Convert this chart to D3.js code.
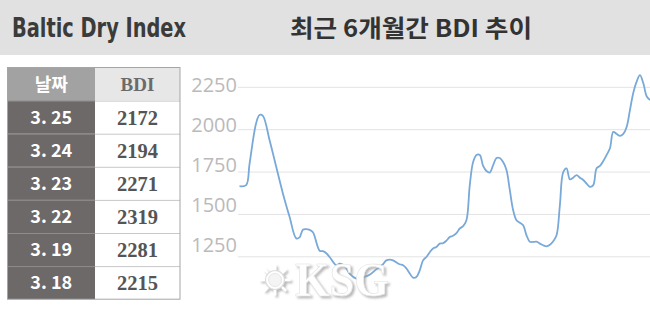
<!DOCTYPE html>
<html><head><meta charset="utf-8">
<script src="https://cdn.jsdelivr.net/npm/d3@7"></script>
<style>html,body{margin:0;padding:0;background:#fff;}svg{display:block;}</style>
</head><body>
<svg id="c" width="650" height="310"></svg>
<script>
// trading-day index (0 = late Sept) and BDI value
const days = [0,2,3,5,6,7,9,11,13,15,17,18,19,20,21,22,24,25,26,27,29,30,31,32,33,35,36,37,39,41,43,44,45,46,48,49,50,51,52,53,54,55,56,57,58,59,60,61,62,63,64,65,66,67,68,69,70,71,72,73,74,75,76,77,78,79,80,81,82,83,84,85,86,87,88,89,90,91,92,93,94,95,96,97,98,99,100,101,102,103,104,105,106,107,108,109,110,111,112,113,114,115,116,117,118,119,120,121,122,123];
const values = [1664,1670,1794,2037,2084,2079,1936,1778,1621,1483,1356,1362,1407,1410,1406,1392,1283,1280,1268,1246,1197,1206,1200,1179,1148,1118,1118,1126,1141,1173,1203,1226,1230,1226,1203,1197,1179,1149,1124,1128,1167,1226,1246,1274,1296,1305,1325,1327,1342,1364,1371,1386,1414,1428,1463,1670,1806,1848,1848,1783,1753,1744,1788,1830,1830,1806,1759,1640,1522,1463,1448,1433,1374,1336,1335,1336,1325,1315,1309,1318,1339,1374,1552,1747,1769,1704,1714,1729,1714,1700,1679,1660,1670,1769,1783,1812,1848,1887,1984,1972,1960,1972,2013,2114,2215,2281,2319,2271,2194,2172];
const yTicks = [1250,1500,1750,2000,2250];
const tableDates = ["3. 25","3. 24","3. 23","3. 22","3. 19","3. 18"];
const tableBDI = [2172,2194,2271,2319,2281,2215];
const titleLeft = "Baltic Dry Index";
const titleMain = "최근 6개월간 BDI 추이";
const tableHead = ["날짜","BDI"];

const svg = d3.select("#c");
const defs = svg.append("defs");
const f = defs.append("filter").attr("id","wmShadow").attr("x","-10%").attr("y","-10%").attr("width","130%").attr("height","130%");
f.append("feDropShadow").attr("dx",2).attr("dy",2).attr("stdDeviation",1.2).attr("flood-color","#9a9a9a").attr("flood-opacity",0.7);

svg.append("rect").attr("width",650).attr("height",310).attr("fill","#fff");

// top band
svg.append("rect").attr("x",0).attr("y",0).attr("width",650).attr("height",55).attr("fill","#e1e1e1");
svg.append("text").attr("x",12).attr("y",37).text(titleLeft)
  .attr("font-family","'Liberation Sans Narrow','DejaVu Sans Condensed','Noto Sans',sans-serif")
  .attr("font-size",26).attr("font-weight","bold").attr("fill","#3b3b3b")
  .attr("textLength",174).attr("lengthAdjust","spacingAndGlyphs");
svg.append("text").attr("x",290).attr("y",37).text(titleMain)
  .attr("font-family","'Noto Sans CJK KR',sans-serif")
  .attr("font-size",24).attr("font-weight","bold").attr("fill","#333")
  .attr("textLength",242).attr("lengthAdjust","spacingAndGlyphs");

// chart scales
const x = d3.scaleLinear().domain([0,123]).range([239.5,650]);
const y = d3.scaleLinear().domain([1250,2250]).range([256.3,86.8]);
const yLab = d3.scaleLinear().domain([1250,2250]).range([245,85]);

// gridlines via axis
const grid = svg.append("g").attr("transform","translate(238,0)")
  .call(d3.axisRight(y).tickValues(yTicks).tickSize(412).tickFormat(""));
grid.select(".domain").remove();
grid.selectAll(".tick line").attr("stroke","#e3e3e3").attr("stroke-width",1);

// labels via axis
const lab = svg.append("g").attr("transform","translate(237,0)")
  .call(d3.axisLeft(yLab).tickValues(yTicks).tickSize(0).tickPadding(0).tickFormat(d3.format("d")));
lab.select(".domain").remove();
lab.selectAll(".tick text").attr("font-family","'Open Sans','Noto Sans',sans-serif")
  .attr("font-size",20).attr("fill","#bababa");

// line
const pts = days.map((d,i)=>[d,values[i]]);
svg.append("path").datum(pts)
  .attr("d", d3.line().x(d=>x(d[0])).y(d=>y(d[1])).curve(d3.curveCatmullRom.alpha(0.5)))
  .attr("fill","none").attr("stroke","#78a9d8").attr("stroke-width",1.8);

// watermark
const wm = svg.append("g").attr("filter","url(#wmShadow)");
const cx = 275, cy = 280;
for (let k=0;k<8;k++){
  const a = k*Math.PI/4;
  wm.append("line").attr("x1",cx+Math.cos(a)*9).attr("y1",cy+Math.sin(a)*9)
    .attr("x2",cx+Math.cos(a)*14.5).attr("y2",cy+Math.sin(a)*14.5)
    .attr("stroke","#fff").attr("stroke-width",2.6).attr("stroke-linecap","round");
}
wm.append("circle").attr("cx",cx).attr("cy",cy).attr("r",9.5).attr("fill","#fff").attr("stroke","#dcdcdc").attr("stroke-width",1.2);
wm.append("circle").attr("cx",cx).attr("cy",cy).attr("r",6.5).attr("fill","#f4f4f4").attr("stroke","#e0e0e0").attr("stroke-width",0.8);
wm.append("text").attr("x",295).attr("y",296).text("KSG")
  .attr("font-family","'Liberation Serif',serif").attr("font-size",48).attr("font-weight","bold")
  .attr("fill","#fff").attr("stroke","#e2e2e2").attr("stroke-width",0.6)
  .attr("textLength",94).attr("lengthAdjust","spacingAndGlyphs");

// table
const tx0 = 7.5, tx1 = 95, tx2 = 180, ty0 = 67.5, rh = 33.1;
svg.append("rect").attr("x",tx0).attr("y",ty0).attr("width",tx1-tx0).attr("height",rh).attr("fill","#a2a2a2");
svg.append("rect").attr("x",tx1).attr("y",ty0).attr("width",tx2-tx1).attr("height",rh).attr("fill","#e7e7e7");
svg.append("text").attr("x",(tx0+tx1)/2).attr("y",ty0+rh/2+6.5).attr("text-anchor","middle").text(tableHead[0])
  .attr("font-family","'Noto Sans CJK KR',sans-serif").attr("font-size",18).attr("font-weight","bold").attr("fill","#fff");
svg.append("text").attr("x",(tx1+tx2)/2).attr("y",ty0+rh/2+6.5).attr("text-anchor","middle").text(tableHead[1])
  .attr("font-family","'Liberation Serif',serif").attr("font-size",19).attr("font-weight","bold").attr("fill","#6b6b6b");

const rows = svg.append("g").selectAll("g").data(tableDates).join("g")
  .attr("transform",(d,i)=>`translate(0,${ty0+rh*(i+1)})`);
rows.append("rect").attr("x",tx0).attr("y",0).attr("width",tx1-tx0).attr("height",rh).attr("fill","#6c6968");
rows.append("rect").attr("x",tx1).attr("y",0).attr("width",tx2-tx1).attr("height",rh).attr("fill","#fff");
rows.append("line").attr("x1",tx0).attr("x2",tx1).attr("y1",0.5).attr("y2",0.5).attr("stroke","#8f8c8b");
rows.append("line").attr("x1",tx1).attr("x2",tx2).attr("y1",0.5).attr("y2",0.5).attr("stroke","#c8c8c8");
rows.append("text").attr("x",(tx0+tx1)/2).attr("y",rh/2+6.5).attr("text-anchor","middle").text(d=>d)
  .attr("font-family","'Noto Sans CJK KR','Noto Sans',sans-serif").attr("font-size",18).attr("font-weight","bold").attr("fill","#fff");
rows.append("text").attr("x",(tx1+tx2)/2).attr("y",rh/2+7.5).attr("text-anchor","middle").text((d,i)=>tableBDI[i])
  .attr("font-family","'Liberation Serif',serif").attr("font-size",20.5).attr("font-weight","bold").attr("fill","#555");
svg.append("rect").attr("x",tx0).attr("y",ty0).attr("width",tx2-tx0).attr("height",rh*7)
  .attr("fill","none").attr("stroke","#a5a5a5").attr("stroke-width",1);
</script>
</body></html>
